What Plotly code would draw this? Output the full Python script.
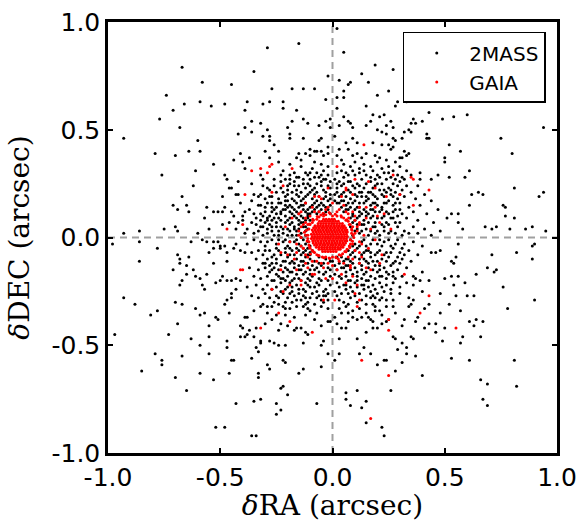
import plotly.graph_objects as go

# ---------------- data (arcsec offsets: (dRA, dDEC)) ----------------
tmass_nw = [
(-0.29,0.88),(-0.15,0.90),(-0.67,0.79),(-0.35,0.77),(-0.02,0.75),(-0.58,0.72),(-0.45,0.71),(-0.27,0.69),(-0.18,0.69),(-0.13,0.69),
(-0.08,0.69),(-0.74,0.66),(-0.66,0.62),(-0.59,0.63),(-0.54,0.61),(-0.48,0.62),(-0.38,0.63),(-0.31,0.62),(-0.28,0.63),(-0.22,0.63),
(-0.03,0.64),(-0.22,0.60),(-0.16,0.59),(-0.71,0.59),(-0.39,0.59),(-0.77,0.55),(-0.36,0.54),(-0.32,0.53),(-0.18,0.54),(-0.13,0.55),
(-0.11,0.53),(-0.06,0.52),(-0.03,0.54),(-0.01,0.55),(-0.68,0.51),(-0.39,0.51),(-0.29,0.50),(-0.20,0.51),(-0.01,0.51),(-0.93,0.46),
(-0.60,0.45),(-0.42,0.48),(-0.36,0.49),(-0.31,0.47),(-0.28,0.47),(-0.19,0.48),(-0.28,0.45),(-0.19,0.46),(-0.13,0.46),(-0.05,0.46),
(-0.06,0.45),(-0.26,0.43),(-0.79,0.39),(-0.64,0.40),(-0.59,0.40),(-0.70,0.38),(-0.30,0.40),(-0.24,0.40),(-0.15,0.39),(-0.10,0.41),
(-0.08,0.40),(-0.07,0.40),(-0.05,0.40),(-0.02,0.42),(-0.41,0.39),(-0.37,0.37),(-0.44,0.36),(-0.40,0.35),(-0.10,0.38),(-0.04,0.38),
(-0.02,0.39),(-0.14,0.36),(-0.53,0.34),(-0.39,0.32),(-0.19,0.34),(-0.02,0.33),(-0.76,0.29),(-0.61,0.31),(-0.48,0.29),(-0.32,0.29),
(-0.09,0.32),(-0.11,0.29),(-0.08,0.28),(-0.05,0.29),(-0.04,0.31),(-0.19,0.29),(-0.15,0.28),(-0.47,0.27),(-0.42,0.26),(-0.36,0.25),
(-0.31,0.27),(-0.20,0.24),(-0.19,0.25),(-0.17,0.24),(-0.11,0.25),(-0.10,0.24),(-0.07,0.25),(-0.05,0.26),(-0.03,0.27),(-0.62,0.24),
(-0.46,0.23),(-0.45,0.23),(-0.29,0.23),(-0.23,0.23),(-0.67,0.19),(-0.49,0.19),(-0.43,0.20),(-0.42,0.20),(-0.35,0.20),(-0.32,0.20),
(-0.28,0.19),(-0.20,0.20),(-0.71,0.15),(-0.65,0.15),(-0.56,0.14),(-0.48,0.14),(-0.41,0.16),(-0.36,0.17),(-0.32,0.15),(-0.27,0.16),
(-0.21,0.15),(-0.20,0.14),(-0.18,0.14),(-0.69,0.13),(-0.64,0.12),(-0.53,0.12),(-0.51,0.12),(-0.49,0.12),(-0.44,0.10),(-0.39,0.12),
(-0.35,0.11),(-0.30,0.12),(-0.25,0.11),(-0.23,0.11),(-0.57,0.09),(-0.40,0.08),(-0.36,0.07),(-0.32,0.08),(-0.29,0.08),(-0.26,0.09),
(-0.75,0.04),(-0.70,0.05),(-0.69,0.03),(-0.60,0.02),(-0.55,0.04),(-0.49,0.06),(-0.46,0.07),(-0.43,0.04),(-0.39,0.02),(-0.35,0.02),
(-0.32,0.05),(-0.29,0.02),(-0.27,0.03),(-0.93,0.02),(-0.86,0.03),
(-0.16,0.22),(-0.14,0.21),(-0.12,0.23),(-0.09,0.22),(-0.07,0.21),(-0.04,0.22),(-0.02,0.24),(-0.01,0.20),(-0.15,0.19),(-0.13,0.18),
(-0.11,0.20),(-0.09,0.18),(-0.06,0.19),(-0.04,0.18),(-0.02,0.17),(-0.24,0.18),(-0.22,0.21),(-0.25,0.14),(-0.23,0.16),(-0.16,0.16),
(-0.14,0.15),(-0.12,0.16),(-0.10,0.14),(-0.08,0.16),(-0.06,0.15),(-0.05,0.13),(-0.03,0.14),(-0.01,0.15),(-0.27,0.12),(-0.22,0.13),
(-0.19,0.12),(-0.17,0.13),(-0.15,0.11),(-0.13,0.13),(-0.11,0.11),(-0.09,0.12),(-0.07,0.11),(-0.03,0.12),(-0.01,0.11),(-0.28,0.10),
(-0.24,0.09),(-0.21,0.10),(-0.19,0.09),(-0.17,0.10),(-0.15,0.08),(-0.13,0.09),(-0.11,0.10),(-0.10,0.08),(-0.34,0.06),(-0.31,0.05),
(-0.28,0.06),(-0.25,0.07),(-0.23,0.05),(-0.21,0.07),(-0.19,0.06),(-0.17,0.05),(-0.15,0.06),(-0.13,0.07),(-0.12,0.05),(-0.38,0.04),
(-0.33,0.03),(-0.31,0.01),(-0.26,0.01),(-0.24,0.03),(-0.22,0.02),(-0.20,0.04),(-0.18,0.01),(-0.16,0.03),(-0.14,0.02),(-0.12,0.01),
(-0.11,0.04),(-0.30,0.18),(-0.27,0.14),(-0.33,0.15),(-0.37,0.13),(-0.34,0.09),(-0.31,0.10),(-0.40,0.10),(-0.42,0.07),(-0.45,0.12),
(-0.26,0.27),(-0.23,0.29),(-0.21,0.27),(-0.17,0.30),(-0.13,0.27),(-0.12,0.30),(-0.07,0.30),(-0.02,0.29),(-0.14,0.33),(-0.08,0.35),
(-0.05,0.34),(-0.16,0.37),(-0.12,0.39),(-0.24,0.35),(-0.28,0.37),(-0.22,0.31),(-0.25,0.21),(-0.18,0.21),(-0.20,0.17),(-0.27,0.19),
(-0.26,0.24),(-0.23,0.26),(-0.20,0.22),(-0.17,0.26),(-0.15,0.24),(-0.13,0.25),(-0.10,0.27),(-0.08,0.23),(-0.05,0.24),(-0.03,0.21),
(-0.01,0.26),(-0.21,0.19),(-0.18,0.18),(-0.16,0.20),(-0.14,0.17),(-0.12,0.19),(-0.10,0.21),(-0.08,0.20),(-0.07,0.17),(-0.05,0.16),
(-0.03,0.19),(-0.01,0.18),(-0.24,0.16),(-0.21,0.17),(-0.19,0.15),(-0.17,0.17),(-0.15,0.14),(-0.13,0.15),(-0.11,0.13),(-0.09,0.15),
(-0.07,0.14),(-0.04,0.15),(-0.02,0.13),(-0.26,0.13),(-0.23,0.12),(-0.21,0.13),(-0.18,0.11),(-0.16,0.12),(-0.14,0.10),(-0.12,0.12),
(-0.10,0.11),(-0.08,0.13),(-0.06,0.12),(-0.04,0.11),(-0.29,0.09),(-0.27,0.08),(-0.23,0.08),(-0.20,0.08),(-0.18,0.07),(-0.16,0.09),
(-0.14,0.07),(-0.12,0.08),(-0.11,0.09),(-0.29,0.04),(-0.27,0.05),(-0.25,0.05),(-0.22,0.04),(-0.19,0.03),(-0.17,0.04),(-0.15,0.04),
(-0.13,0.05),(-0.12,0.03),(-0.24,0.01),(-0.20,0.01),(-0.16,0.01),(-0.14,0.00),(-0.30,0.07),(-0.32,0.11),(-0.30,0.14),(-0.29,0.16),
(-0.33,0.19),(-0.28,0.22),(-0.31,0.24),(-0.19,0.27),(-0.16,0.28),(-0.10,0.30),(-0.06,0.28),(-0.04,0.27),(-0.01,0.23),
]

tmass_ne = [
(0.02,0.97),(0.05,0.86),(0.19,0.80),(0.27,0.78),(0.13,0.76),(0.16,0.72),(0.08,0.72),(0.07,0.71),(0.03,0.73),(0.25,0.68),
(0.05,0.68),(0.05,0.65),(0.20,0.66),(0.02,0.65),(0.39,0.65),(0.41,0.64),(0.29,0.63),(0.33,0.63),(0.28,0.61),(0.15,0.61),
(0.02,0.60),(0.43,0.58),(0.60,0.57),(0.54,0.56),(0.05,0.56),(0.18,0.57),(0.21,0.56),(0.23,0.57),(0.07,0.54),(0.08,0.53),
(0.17,0.54),(0.26,0.54),(0.36,0.55),(0.37,0.53),(0.35,0.53),(0.40,0.54),(0.15,0.52),(0.09,0.51),(0.03,0.52),(0.24,0.52),
(0.27,0.51),(0.34,0.50),(0.35,0.49),(0.22,0.49),(0.24,0.48),(0.20,0.50),(0.42,0.48),(0.42,0.46),(0.43,0.46),(0.94,0.51),
(0.01,0.47),(0.27,0.46),(0.28,0.45),(0.32,0.49),(0.31,0.46),(0.09,0.46),(0.11,0.44),(0.06,0.44),(0.07,0.41),(0.03,0.41),
(0.18,0.44),(0.22,0.43),(0.25,0.43),(0.26,0.41),(0.27,0.42),(0.75,0.46),(0.52,0.43),(0.57,0.40),(0.80,0.39),(0.50,0.37),
(0.50,0.35),(0.32,0.40),(0.34,0.39),(0.33,0.38),(0.30,0.37),(0.31,0.37),(0.39,0.30),(0.39,0.27),(0.44,0.27),(0.47,0.29),
(0.52,0.28),(0.59,0.28),(0.61,0.31),(0.62,0.20),(0.65,0.21),(0.67,0.20),(0.81,0.23),(0.94,0.21),(0.92,0.19),(0.76,0.15),
(0.77,0.14),(0.77,0.10),(0.61,0.15),(0.81,0.09),(0.53,0.11),(0.56,0.11),(0.51,0.09),(0.58,0.04),(0.56,0.07),(0.71,0.04),
(0.73,0.05),(0.79,0.04),(0.86,0.04),(0.89,0.05),(0.95,0.03),(0.68,0.05),(0.49,0.55),
(0.09,0.38),(0.11,0.39),(0.13,0.37),(0.15,0.39),(0.19,0.38),(0.21,0.37),(0.24,0.36),(0.28,0.35),(0.04,0.36),(0.02,0.38),
(0.05,0.34),(0.08,0.33),(0.10,0.35),(0.12,0.32),(0.14,0.34),(0.17,0.33),(0.20,0.35),(0.22,0.32),(0.25,0.33),(0.27,0.31),
(0.30,0.33),(0.33,0.31),(0.02,0.30),(0.04,0.31),(0.07,0.29),(0.09,0.31),(0.12,0.30),(0.15,0.29),(0.18,0.31),(0.20,0.29),
(0.23,0.30),(0.26,0.28),(0.29,0.29),(0.32,0.27),(0.35,0.29),(0.01,0.27),(0.03,0.26),(0.05,0.28),(0.08,0.26),(0.11,0.25),
(0.13,0.27),(0.17,0.26),(0.19,0.27),(0.22,0.25),(0.24,0.27),(0.27,0.25),(0.30,0.26),(0.33,0.24),(0.02,0.23),(0.04,0.24),
(0.07,0.22),(0.10,0.23),(0.12,0.21),(0.14,0.23),(0.16,0.21),(0.19,0.24),(0.21,0.22),(0.25,0.23),(0.28,0.21),(0.31,0.22),
(0.35,0.21),(0.38,0.24),(0.01,0.20),(0.03,0.19),(0.05,0.21),(0.08,0.18),(0.10,0.20),(0.13,0.19),(0.16,0.18),(0.18,0.20),
(0.20,0.18),(0.23,0.19),(0.26,0.20),(0.29,0.18),(0.32,0.19),(0.37,0.18),(0.41,0.20),(0.02,0.16),(0.04,0.17),(0.06,0.15),
(0.09,0.16),(0.11,0.14),(0.14,0.16),(0.17,0.15),(0.19,0.16),(0.22,0.14),(0.24,0.16),(0.27,0.15),(0.30,0.16),(0.34,0.14),
(0.39,0.15),(0.44,0.17),(0.05,0.12),(0.07,0.13),(0.09,0.11),(0.12,0.12),(0.14,0.13),(0.16,0.11),(0.18,0.13),(0.21,0.12),
(0.25,0.11),(0.28,0.13),(0.31,0.11),(0.36,0.12),(0.42,0.11),(0.47,0.13),(0.08,0.09),(0.10,0.08),(0.12,0.10),(0.14,0.08),
(0.17,0.09),(0.19,0.07),(0.22,0.09),(0.24,0.07),(0.27,0.09),(0.30,0.07),(0.33,0.09),(0.38,0.08),(0.45,0.07),(0.08,0.05),
(0.11,0.04),(0.13,0.06),(0.15,0.04),(0.18,0.05),(0.20,0.03),(0.23,0.05),(0.26,0.03),(0.29,0.05),(0.32,0.03),(0.36,0.05),
(0.41,0.04),(0.48,0.03),(0.09,0.01),(0.12,0.02),(0.16,0.01),(0.21,0.01),(0.25,0.02),(0.31,0.01),(0.38,0.02),(0.44,0.01),
(0.02,0.25),(0.05,0.25),(0.07,0.26),(0.09,0.24),(0.12,0.24),(0.15,0.25),(0.18,0.23),(0.20,0.25),(0.23,0.22),(0.26,0.22),
(0.29,0.24),(0.02,0.21),(0.04,0.20),(0.06,0.19),(0.08,0.21),(0.11,0.19),(0.13,0.21),(0.15,0.19),(0.17,0.21),(0.19,0.19),
(0.22,0.20),(0.24,0.21),(0.27,0.19),(0.30,0.20),(0.01,0.17),(0.03,0.16),(0.05,0.17),(0.07,0.16),(0.10,0.17),(0.12,0.16),
(0.15,0.17),(0.18,0.16),(0.20,0.15),(0.23,0.16),(0.25,0.17),(0.28,0.16),(0.04,0.14),(0.06,0.13),(0.08,0.14),(0.10,0.13),
(0.12,0.14),(0.15,0.12),(0.17,0.13),(0.19,0.12),(0.22,0.13),(0.24,0.12),(0.27,0.12),(0.30,0.13),(0.09,0.10),(0.11,0.09),
(0.13,0.11),(0.15,0.10),(0.18,0.10),(0.20,0.09),(0.23,0.10),(0.26,0.09),(0.29,0.10),(0.09,0.07),(0.11,0.06),(0.14,0.06),
(0.16,0.07),(0.19,0.05),(0.22,0.06),(0.25,0.06),(0.28,0.07),(0.10,0.03),(0.13,0.03),(0.17,0.03),(0.19,0.02),(0.23,0.03),
(0.28,0.02),(0.34,0.02),(0.06,0.30),(0.10,0.29),(0.14,0.31),(0.17,0.28),(0.21,0.28),(0.25,0.30),(0.28,0.27),(0.31,0.28),
]

tmass_sw = [
(-0.98,-0.03),(-0.86,-0.02),(-0.78,-0.05),(-0.86,-0.11),(-0.69,-0.08),(-0.68,-0.10),(-0.68,-0.12),(-0.65,-0.13),(-0.64,-0.09),(-0.71,-0.15),
(-0.65,-0.17),(-0.62,-0.15),(-0.61,-0.18),(-0.67,-0.20),(-0.68,-0.22),(-0.59,-0.19),(-0.56,-0.17),(-0.58,-0.22),(-0.57,-0.24),(-0.53,-0.12),
(-0.47,-0.11),(-0.63,-0.02),(-0.58,-0.01),(-0.56,-0.02),(-0.53,-0.02),(-0.51,-0.02),(-0.50,-0.04),(-0.55,-0.07),(-0.53,-0.05),(-0.50,-0.05),
(-0.48,-0.04),(-0.47,-0.07),(-0.44,-0.05),(-0.43,-0.03),(-0.41,-0.06),(-0.39,-0.07),(-0.38,-0.03),(-0.52,-0.21),(-0.50,-0.20),(-0.49,-0.18),
(-0.47,-0.20),(-0.45,-0.20),(-0.43,-0.19),(-0.41,-0.20),(-0.43,-0.24),(-0.45,-0.26),(-0.45,-0.28),(-0.93,-0.28),(-0.88,-0.31),(-0.81,-0.36),
(-0.78,-0.34),(-0.70,-0.30),(-0.67,-0.31),(-0.61,-0.33),(-0.57,-0.35),(-0.59,-0.36),(-0.69,-0.40),(-0.97,-0.45),(-0.73,-0.45),(-0.63,-0.47),
(-0.55,-0.46),(-0.55,-0.41),(-0.52,-0.37),(-0.51,-0.38),(-0.48,-0.31),(-0.47,-0.29),(-0.46,-0.35),(-0.59,-0.50),(-0.55,-0.54),(-0.79,-0.54),
(-0.67,-0.55),(-0.76,-0.57),(-0.76,-0.59),(-0.47,-0.48),(-0.47,-0.51),(-0.45,-0.57),(-0.44,-0.57),(-0.85,-0.62),(-0.70,-0.65),(-0.59,-0.63),
(-0.53,-0.66),(-0.46,-0.63),(-0.65,-0.71),(-0.43,-0.77),(-0.35,-0.76),(-0.32,-0.75),(-0.25,-0.77),(-0.23,-0.80),(-0.25,-0.82),(-0.23,-0.70),
(-0.22,-0.69),(-0.20,-0.73),(-0.07,-0.77),(-0.52,-0.88),(-0.48,-0.88),(-0.36,-0.92),(-0.34,-0.92),(-0.33,-0.63),(-0.33,-0.65),(-0.29,-0.59),
(-0.28,-0.61),(-0.22,-0.57),(-0.21,-0.58),(-0.15,-0.63),(-0.13,-0.61),(-0.05,-0.60),(-0.02,-0.54),(-0.05,-0.50),(-0.04,-0.48),(-0.13,-0.49),
(-0.11,-0.45),(-0.12,-0.44),(-0.36,-0.56),(-0.33,-0.53),(-0.34,-0.51),(-0.32,-0.49),(-0.32,-0.48),(-0.28,-0.48),(-0.26,-0.49),(-0.24,-0.50),
(-0.21,-0.50),(-0.41,-0.41),(-0.40,-0.42),(-0.38,-0.45),(-0.37,-0.43),(-0.35,-0.46),(-0.34,-0.42),(-0.41,-0.46),(-0.39,-0.46),(-0.39,-0.37),
(-0.38,-0.37),(-0.35,-0.34),(-0.32,-0.32),(-0.29,-0.35),(-0.27,-0.38),(-0.25,-0.36),(-0.23,-0.40),(-0.20,-0.41),(-0.17,-0.43),(-0.16,-0.42),
(-0.14,-0.42),(-0.26,-0.30),(-0.22,-0.32),(-0.21,-0.33),(-0.19,-0.33),(-0.16,-0.32),(-0.13,-0.32),(-0.11,-0.33),(-0.10,-0.34),(-0.07,-0.35),
(-0.02,-0.39),(-0.01,-0.39),(-0.11,-0.30),(-0.05,-0.29),(-0.04,-0.27),(-0.02,-0.29),
(-0.35,-0.01),(-0.32,-0.02),(-0.30,-0.04),(-0.27,-0.01),(-0.25,-0.03),(-0.22,-0.02),(-0.20,-0.04),(-0.17,-0.02),(-0.15,-0.03),(-0.13,-0.01),
(-0.11,-0.02),(-0.36,-0.07),(-0.33,-0.06),(-0.31,-0.08),(-0.28,-0.06),(-0.26,-0.08),(-0.24,-0.06),(-0.21,-0.07),(-0.19,-0.05),(-0.17,-0.08),
(-0.15,-0.06),(-0.13,-0.07),(-0.11,-0.05),(-0.34,-0.10),(-0.31,-0.12),(-0.29,-0.10),(-0.27,-0.12),(-0.25,-0.10),(-0.22,-0.11),(-0.20,-0.09),
(-0.18,-0.11),(-0.16,-0.10),(-0.14,-0.11),(-0.12,-0.09),(-0.10,-0.10),(-0.08,-0.11),(-0.37,-0.14),(-0.33,-0.15),(-0.30,-0.14),(-0.28,-0.16),
(-0.26,-0.14),(-0.24,-0.15),(-0.21,-0.14),(-0.19,-0.16),(-0.17,-0.14),(-0.15,-0.15),(-0.13,-0.13),(-0.10,-0.15),(-0.07,-0.14),(-0.05,-0.13),
(-0.02,-0.14),(-0.35,-0.18),(-0.32,-0.19),(-0.29,-0.18),(-0.27,-0.20),(-0.24,-0.18),(-0.22,-0.19),(-0.20,-0.18),(-0.18,-0.20),(-0.15,-0.19),
(-0.13,-0.17),(-0.11,-0.19),(-0.09,-0.18),(-0.06,-0.19),(-0.04,-0.17),(-0.01,-0.18),(-0.38,-0.23),(-0.34,-0.22),(-0.31,-0.24),(-0.29,-0.22),
(-0.25,-0.23),(-0.23,-0.21),(-0.21,-0.24),(-0.18,-0.23),(-0.16,-0.22),(-0.13,-0.24),(-0.11,-0.22),(-0.08,-0.23),(-0.06,-0.22),(-0.03,-0.24),
(-0.01,-0.22),(-0.36,-0.27),(-0.33,-0.28),(-0.30,-0.26),(-0.28,-0.28),(-0.25,-0.27),(-0.22,-0.26),(-0.20,-0.28),(-0.17,-0.27),(-0.15,-0.26),
(-0.12,-0.28),(-0.09,-0.26),(-0.07,-0.28),(-0.03,-0.27),(-0.31,-0.31),(-0.29,-0.32),(-0.24,-0.31),(-0.18,-0.30),(-0.14,-0.29),(-0.08,-0.31),
(-0.05,-0.32),(-0.02,-0.33),(-0.12,-0.36),(-0.17,-0.37),(-0.21,-0.36),(-0.08,-0.38),(-0.05,-0.41),(-0.24,-0.43),(-0.30,-0.40),(-0.09,-0.06),
(-0.10,-0.08),(-0.06,-0.09),(-0.03,-0.10),(-0.01,-0.11),(-0.04,-0.12),
(-0.29,-0.02),(-0.24,-0.01),(-0.21,-0.01),(-0.19,-0.02),(-0.16,-0.01),(-0.14,-0.04),(-0.12,-0.03),(-0.10,-0.04),(-0.30,-0.06),(-0.27,-0.09),
(-0.25,-0.05),(-0.23,-0.08),(-0.21,-0.05),(-0.19,-0.08),(-0.18,-0.06),(-0.16,-0.05),(-0.14,-0.08),(-0.12,-0.06),(-0.10,-0.07),(-0.11,-0.08),
(-0.30,-0.12),(-0.28,-0.13),(-0.25,-0.12),(-0.23,-0.13),(-0.21,-0.11),(-0.19,-0.12),(-0.17,-0.12),(-0.15,-0.13),(-0.13,-0.11),(-0.11,-0.12),
(-0.09,-0.13),(-0.06,-0.12),(-0.27,-0.15),(-0.25,-0.17),(-0.22,-0.16),(-0.20,-0.15),(-0.18,-0.16),(-0.16,-0.17),(-0.14,-0.15),(-0.12,-0.16),
(-0.10,-0.17),(-0.08,-0.15),(-0.06,-0.16),(-0.03,-0.16),(-0.01,-0.15),(-0.26,-0.20),(-0.23,-0.19),(-0.21,-0.20),(-0.19,-0.21),(-0.17,-0.19),
(-0.14,-0.20),(-0.12,-0.21),(-0.10,-0.20),(-0.07,-0.21),(-0.05,-0.20),(-0.02,-0.20),(-0.27,-0.24),(-0.23,-0.25),(-0.20,-0.23),(-0.18,-0.25),
(-0.15,-0.24),(-0.12,-0.25),(-0.10,-0.23),(-0.07,-0.25),(-0.04,-0.25),(-0.02,-0.26),(-0.24,-0.28),(-0.19,-0.26),(-0.16,-0.29),(-0.13,-0.27),
(-0.10,-0.28),(-0.06,-0.27),(-0.04,-0.30),(-0.27,-0.32),(-0.21,-0.30),(-0.12,-0.31),
]

tmass_se = [
(0.56,-0.03),(0.90,-0.03),(0.89,-0.04),(0.89,-0.10),(0.82,-0.07),(0.71,-0.08),(0.69,-0.14),(0.72,-0.16),(0.73,-0.15),(0.64,-0.17),
(0.53,-0.11),(0.54,-0.12),(0.55,-0.09),(0.48,-0.06),(0.46,-0.07),(0.44,-0.07),(0.50,-0.19),(0.53,-0.18),(0.56,-0.18),(0.59,-0.21),
(0.76,-0.23),(0.54,-0.22),(0.90,-0.29),(0.78,-0.33),(0.60,-0.27),(0.63,-0.27),(0.55,-0.27),(0.52,-0.31),(0.48,-0.26),(0.57,-0.34),
(0.48,-0.35),(0.61,-0.39),(0.64,-0.38),(0.67,-0.39),(0.63,-0.41),(0.50,-0.42),(0.46,-0.40),(0.46,-0.44),(0.58,-0.46),(0.66,-0.46),
(0.57,-0.49),(0.49,-0.48),(0.53,-0.56),(0.61,-0.57),(0.81,-0.57),(0.66,-0.66),(0.69,-0.68),(0.82,-0.69),(0.67,-0.75),(0.69,-0.78),
(0.40,-0.64),(0.43,-0.31),(0.41,-0.33),(0.38,-0.37),(0.37,-0.39),(0.41,-0.42),(0.43,-0.40),(0.40,-0.25),(0.39,-0.20),(0.40,-0.16),
(0.43,-0.20),(0.36,-0.22),(0.36,-0.18),(0.37,-0.19),(0.34,-0.28),(0.36,-0.29),(0.34,-0.32),(0.35,-0.31),(0.27,-0.32),(0.27,-0.29),
(0.24,-0.29),(0.21,-0.29),(0.19,-0.28),(0.17,-0.28),(0.25,-0.38),(0.24,-0.39),(0.22,-0.40),(0.27,-0.46),(0.28,-0.47),(0.31,-0.49),
(0.29,-0.52),(0.33,-0.51),(0.35,-0.46),(0.36,-0.47),(0.33,-0.54),(0.37,-0.55),(0.31,-0.58),(0.23,-0.57),(0.24,-0.57),(0.20,-0.59),
(0.28,-0.62),(0.26,-0.71),(0.17,-0.54),(0.14,-0.51),(0.12,-0.54),(0.11,-0.47),(0.15,-0.44),(0.03,-0.47),(0.03,-0.54),(0.01,-0.57),
(0.06,-0.72),(0.11,-0.71),(0.06,-0.75),(0.08,-0.78),(0.15,-0.76),(0.13,-0.79),(0.15,-0.86),(0.22,-0.88),(0.23,-0.92),(0.18,-0.42),
(0.20,-0.42),(0.16,-0.37),(0.17,-0.38),(0.18,-0.39),(0.19,-0.34),(0.21,-0.34),(0.19,-0.32),(0.13,-0.37),(0.11,-0.38),(0.09,-0.37),
(0.07,-0.39),(0.06,-0.42),(0.04,-0.42),(0.02,-0.40),(0.01,-0.37),(0.04,-0.35),(0.07,-0.35),
(0.08,-0.01),(0.10,-0.03),(0.13,-0.02),(0.15,-0.04),(0.18,-0.01),(0.20,-0.03),(0.23,-0.02),(0.26,-0.04),(0.29,-0.01),(0.32,-0.03),
(0.36,-0.02),(0.40,-0.04),(0.07,-0.06),(0.09,-0.07),(0.11,-0.05),(0.14,-0.07),(0.16,-0.06),(0.19,-0.08),(0.21,-0.06),(0.24,-0.07),
(0.27,-0.05),(0.30,-0.07),(0.34,-0.06),(0.38,-0.08),(0.04,-0.09),(0.06,-0.10),(0.08,-0.11),(0.10,-0.09),(0.12,-0.10),(0.15,-0.11),
(0.17,-0.09),(0.20,-0.11),(0.22,-0.10),(0.25,-0.09),(0.28,-0.11),(0.31,-0.10),(0.35,-0.11),(0.01,-0.13),(0.03,-0.12),(0.05,-0.14),
(0.07,-0.13),(0.10,-0.14),(0.13,-0.13),(0.16,-0.14),(0.19,-0.13),(0.23,-0.14),(0.26,-0.13),(0.29,-0.15),(0.33,-0.14),(0.01,-0.17),
(0.03,-0.18),(0.06,-0.16),(0.09,-0.17),(0.11,-0.18),(0.14,-0.17),(0.17,-0.18),(0.20,-0.16),(0.22,-0.18),(0.25,-0.17),(0.28,-0.19),
(0.31,-0.18),(0.02,-0.21),(0.05,-0.22),(0.07,-0.20),(0.10,-0.21),(0.13,-0.22),(0.15,-0.20),(0.18,-0.22),(0.21,-0.21),(0.24,-0.22),
(0.27,-0.21),(0.30,-0.23),(0.33,-0.21),(0.01,-0.25),(0.04,-0.26),(0.06,-0.24),(0.09,-0.25),(0.12,-0.26),(0.14,-0.24),(0.17,-0.25),
(0.20,-0.26),(0.23,-0.25),(0.26,-0.24),(0.30,-0.26),(0.03,-0.29),(0.05,-0.30),(0.08,-0.28),(0.13,-0.29),(0.15,-0.31),(0.03,-0.33),
(0.06,-0.32),(0.09,-0.34),(0.12,-0.33),(0.15,-0.35),(0.22,-0.36),(0.28,-0.35),(0.31,-0.41),(0.32,-0.38),(0.02,-0.09),(0.00,-0.11),
(0.09,-0.04),(0.12,-0.04),(0.14,-0.01),(0.17,-0.03),(0.21,-0.01),(0.22,-0.04),(0.25,-0.01),(0.28,-0.03),(0.31,-0.05),(0.08,-0.08),
(0.10,-0.06),(0.13,-0.08),(0.15,-0.06),(0.17,-0.07),(0.20,-0.07),(0.23,-0.08),(0.26,-0.07),(0.29,-0.09),(0.32,-0.08),(0.05,-0.11),
(0.07,-0.10),(0.09,-0.12),(0.12,-0.12),(0.14,-0.10),(0.16,-0.12),(0.18,-0.11),(0.21,-0.13),(0.24,-0.11),(0.27,-0.12),(0.30,-0.12),
(0.02,-0.15),(0.04,-0.14),(0.06,-0.13),(0.08,-0.15),(0.11,-0.16),(0.13,-0.15),(0.15,-0.16),(0.18,-0.15),(0.21,-0.15),(0.24,-0.16),
(0.27,-0.16),(0.04,-0.19),(0.06,-0.18),(0.08,-0.20),(0.11,-0.20),(0.13,-0.19),(0.16,-0.20),(0.19,-0.19),(0.21,-0.18),(0.24,-0.19),
(0.27,-0.18),(0.03,-0.23),(0.06,-0.22),(0.08,-0.23),(0.11,-0.23),(0.14,-0.22),(0.16,-0.23),(0.19,-0.24),(0.22,-0.23),(0.26,-0.26),
(0.02,-0.27),(0.07,-0.26),(0.10,-0.27),(0.15,-0.27),(0.18,-0.27),(0.22,-0.28),(0.07,-0.31),(0.11,-0.30),(0.18,-0.31),(0.24,-0.32),
]

gaia_scatter = [
(-0.36,0.31),(-0.32,0.32),(-0.29,0.30),(-0.28,0.33),(-0.27,0.34),(-0.18,0.32),(-0.22,0.24),(-0.27,0.21),(-0.39,0.20),(-0.47,0.04),
(-0.40,0.06),(-0.15,0.11),(-0.14,0.12),(-0.12,0.07),(-0.11,0.06),(-0.08,0.19),(-0.06,0.19),
(0.14,0.43),(0.02,0.33),(0.36,0.27),(0.43,0.22),(0.36,0.15),(0.24,0.19),(0.30,0.20),(0.19,0.23),(0.16,0.26),(0.10,0.27),
(0.06,0.23),(0.09,0.20),(0.15,0.14),(0.19,0.14),(0.23,0.11),(0.12,0.07),(0.21,0.07),(0.26,0.04),(0.27,0.29),(0.35,0.28),
(-0.41,-0.15),(-0.40,-0.15),(-0.32,-0.42),(-0.19,-0.39),(-0.24,-0.35),(-0.09,-0.44),(-0.27,-0.24),(-0.23,-0.15),(-0.19,-0.22),(-0.16,-0.15),
(-0.14,-0.22),(-0.11,-0.14),(-0.08,-0.17),(-0.04,-0.29),(-0.03,-0.19),(-0.16,-0.07),(-0.13,-0.05),(-0.20,-0.08),(-0.24,-0.03),(-0.22,-0.25),
(0.55,-0.42),(0.43,-0.27),(0.39,-0.35),(0.25,-0.38),(0.25,-0.43),(0.25,-0.64),(0.13,-0.57),(0.17,-0.84),(0.11,-0.32),(0.12,-0.29),
(0.10,-0.26),(0.01,-0.29),(0.32,-0.17),(0.17,-0.15),(0.21,-0.12),(0.12,-0.12),(0.06,-0.21),(0.04,-0.17),(0.08,-0.14),
(0.085,0.02),(0.08,-0.01),(0.09,0.05),(0.075,0.06),(0.06,0.08),(0.04,0.095),(0.02,0.10),(-0.01,0.11),(-0.04,0.10),(-0.07,0.085),
(-0.09,0.07),(-0.105,0.04),(-0.11,0.01),(-0.105,-0.02),(-0.10,-0.05),(-0.08,-0.07),(-0.06,-0.085),(-0.03,-0.09),(0.00,-0.09),(0.03,-0.08),
(0.055,-0.065),(0.075,-0.04),(0.11,0.03),(0.12,-0.02),(0.10,0.08),(0.07,0.11),(0.03,0.13),(-0.02,0.14),(-0.06,0.12),(-0.10,0.10),
(-0.13,0.06),(-0.14,0.00),(-0.13,-0.05),(-0.11,-0.09),(-0.07,-0.11),(-0.02,-0.12),(0.03,-0.11),(0.07,-0.09),(0.10,-0.06),(0.12,0.06),
(0.14,0.01),(-0.15,0.03),(0.00,0.16),(0.05,0.15),(-0.09,0.14),(-0.16,-0.03),(-0.12,-0.12),(-0.04,-0.14),(0.02,-0.15),(0.08,-0.13),
(0.13,-0.09),(0.15,0.09),(0.09,0.12),(0.17,0.04),(0.16,-0.05),(0.12,0.14),(0.04,0.19),(-0.05,0.18),(-0.12,0.16),(-0.18,0.09),
(-0.19,-0.02),(-0.17,-0.10),(-0.09,-0.17),(0.00,-0.19),(0.09,-0.18),(0.15,-0.14),(0.19,-0.01),(0.20,0.10),(-0.21,0.05),(0.06,0.22),
(-0.14,-0.20),(0.11,-0.22),(-0.02,0.23),(0.22,-0.08),(-0.23,-0.07),
(0.095,0.00),(0.09,-0.03),(0.085,0.04),(0.07,0.075),(0.05,0.09),(0.00,0.10),(-0.03,0.105),(-0.06,0.095),(-0.085,0.08),(-0.10,0.06),
(-0.11,-0.005),(-0.105,-0.035),(-0.09,-0.06),(-0.07,-0.08),(-0.045,-0.09),(-0.015,-0.095),(0.015,-0.09),(0.045,-0.075),(0.065,-0.055),(0.08,-0.03),
(0.10,0.10),(0.11,0.05),(0.13,-0.03),(0.12,-0.07),(0.09,-0.10),(0.05,-0.12),(0.00,-0.13),(-0.05,-0.12),(-0.09,-0.11),(-0.12,-0.08),
(-0.14,-0.04),(-0.15,0.01),(-0.14,0.05),(-0.12,0.09),(-0.08,0.12),(-0.03,0.13),(0.02,0.12),(0.06,0.12),
(0.092,0.012),(0.087,0.034),(0.079,0.060),(0.063,0.082),(0.038,0.101),(0.012,0.108),(-0.015,0.116),(-0.042,0.112),(-0.068,0.098),(-0.088,0.085),
(-0.103,0.063),(-0.116,0.034),(-0.119,0.011),(-0.113,-0.016),(-0.102,-0.045),(-0.085,-0.066),(-0.063,-0.083),(-0.038,-0.094),(-0.012,-0.098),(0.016,-0.094),
(0.038,-0.084),(0.060,-0.066),(0.077,-0.046),(0.089,-0.017),(0.100,0.020),(-0.125,0.024),(-0.052,0.104),(0.026,-0.100),(-0.098,-0.076),(0.072,0.090),
]

# saturated GAIA core: rows of (dDEC, [dRA ...])
gaia_core_rows = [
(0.085, [-0.040,-0.028,-0.016,-0.004,0.008]),
(0.075, [-0.058,-0.046,-0.034,-0.022,-0.010,0.002,0.014,0.026]),
(0.065, [-0.064,-0.052,-0.040,-0.028,-0.016,-0.004,0.008,0.020,0.032,0.044]),
(0.055, [-0.078,-0.066,-0.054,-0.042,-0.030,-0.018,-0.006,0.006,0.018,0.030,0.042,0.052]),
(0.045, [-0.084,-0.072,-0.060,-0.048,-0.036,-0.024,-0.012,0.000,0.012,0.024,0.036,0.048,0.058]),
(0.035, [-0.090,-0.078,-0.066,-0.054,-0.042,-0.030,-0.018,-0.006,0.006,0.018,0.030,0.042,0.054,0.064]),
(0.025, [-0.086,-0.074,-0.062,-0.050,-0.038,-0.026,-0.014,-0.002,0.010,0.022,0.034,0.046,0.058,0.066]),
(0.015, [-0.094,-0.082,-0.070,-0.058,-0.046,-0.034,-0.022,-0.010,0.002,0.014,0.026,0.038,0.050,0.062]),
(0.005, [-0.090,-0.078,-0.066,-0.054,-0.042,-0.030,-0.018,-0.006,0.006,0.018,0.030,0.042,0.054,0.066]),
(-0.005, [-0.094,-0.082,-0.070,-0.058,-0.046,-0.034,-0.022,-0.010,0.002,0.014,0.026,0.038,0.050,0.062]),
(-0.015, [-0.088,-0.076,-0.064,-0.052,-0.040,-0.028,-0.016,-0.004,0.008,0.020,0.032,0.044,0.056,0.064]),
(-0.025, [-0.086,-0.074,-0.062,-0.050,-0.038,-0.026,-0.014,-0.002,0.010,0.022,0.034,0.046,0.058]),
(-0.035, [-0.080,-0.068,-0.056,-0.044,-0.032,-0.020,-0.008,0.004,0.016,0.028,0.040,0.052]),
(-0.045, [-0.072,-0.060,-0.048,-0.036,-0.024,-0.012,0.000,0.012,0.024,0.036,0.046]),
(-0.055, [-0.060,-0.048,-0.036,-0.024,-0.012,0.000,0.012,0.024,0.034]),
(-0.065, [-0.044,-0.032,-0.020,-0.008,0.004,0.016]),
]

tick_vals = [-1.0, -0.5, 0.0, 0.5, 1.0]
tick_text = ["-1.0", "-0.5", "0.0", "0.5", "1.0"]
series_names = ["2MASS", "GAIA"]

# ---------------- build ----------------
tmass = tmass_nw + tmass_ne + tmass_sw + tmass_se
tm_ra = [p[0] for p in tmass]
tm_dec = [p[1] for p in tmass]

ga_ra = [p[0] for p in gaia_scatter]
ga_dec = [p[1] for p in gaia_scatter]
for dec, ras in gaia_core_rows:
    for ra in ras:
        ga_ra.append(ra)
        ga_dec.append(dec)

fig = go.Figure()
fig.add_trace(go.Scatter(x=tm_ra, y=tm_dec, mode="markers", name=series_names[0],
                         marker=dict(color="black", size=3, line=dict(width=0))))
fig.add_trace(go.Scatter(x=ga_ra, y=ga_dec, mode="markers", name=series_names[1],
                         marker=dict(color="#ff0000", size=3, line=dict(width=0))))

dash_line = dict(color="#a0a0a0", width=2, dash="7px,5px")
fig.add_shape(type="line", x0=0, x1=0, y0=-1, y1=1, xref="x", yref="y", line=dash_line, layer="below")
fig.add_shape(type="line", x0=-1, x1=1, y0=0, y1=0, xref="x", yref="y", line=dash_line, layer="below")

axis_common = dict(range=[-1, 1], showgrid=False, zeroline=False, showline=True,
                   linecolor="black", linewidth=2.5, mirror="ticks", ticks="inside",
                   ticklen=5, tickwidth=2, tickcolor="black",
                   tickvals=tick_vals, ticktext=tick_text,
                   tickfont=dict(family="DejaVu Sans", size=25, color="black"))

fig.update_layout(
    width=581, height=522,
    margin=dict(l=108, r=24, t=22, b=69, autoexpand=False),
    paper_bgcolor="white", plot_bgcolor="white",
    xaxis=dict(**axis_common,
               title=dict(text="<i>δ</i>RA (arcsec)", standoff=4,
                          font=dict(family="DejaVu Serif", size=28, color="black"))),
    yaxis=dict(**axis_common,
               title=dict(text="<i>δ</i>DEC (arcsec)", standoff=14,
                          font=dict(family="DejaVu Serif", size=28, color="black"))),
    legend=dict(x=0.975, y=0.977, xanchor="right", yanchor="top",
                bgcolor="white", bordercolor="black", borderwidth=1.5,
                font=dict(family="DejaVu Sans", size=20, color="black"),
                itemsizing="trace", itemwidth=55),
    showlegend=True,
)

fig.write_html("out.html", config={"displayModeBar": False},
               post_script="document.body.style.margin='0';document.body.style.overflow='hidden';")
